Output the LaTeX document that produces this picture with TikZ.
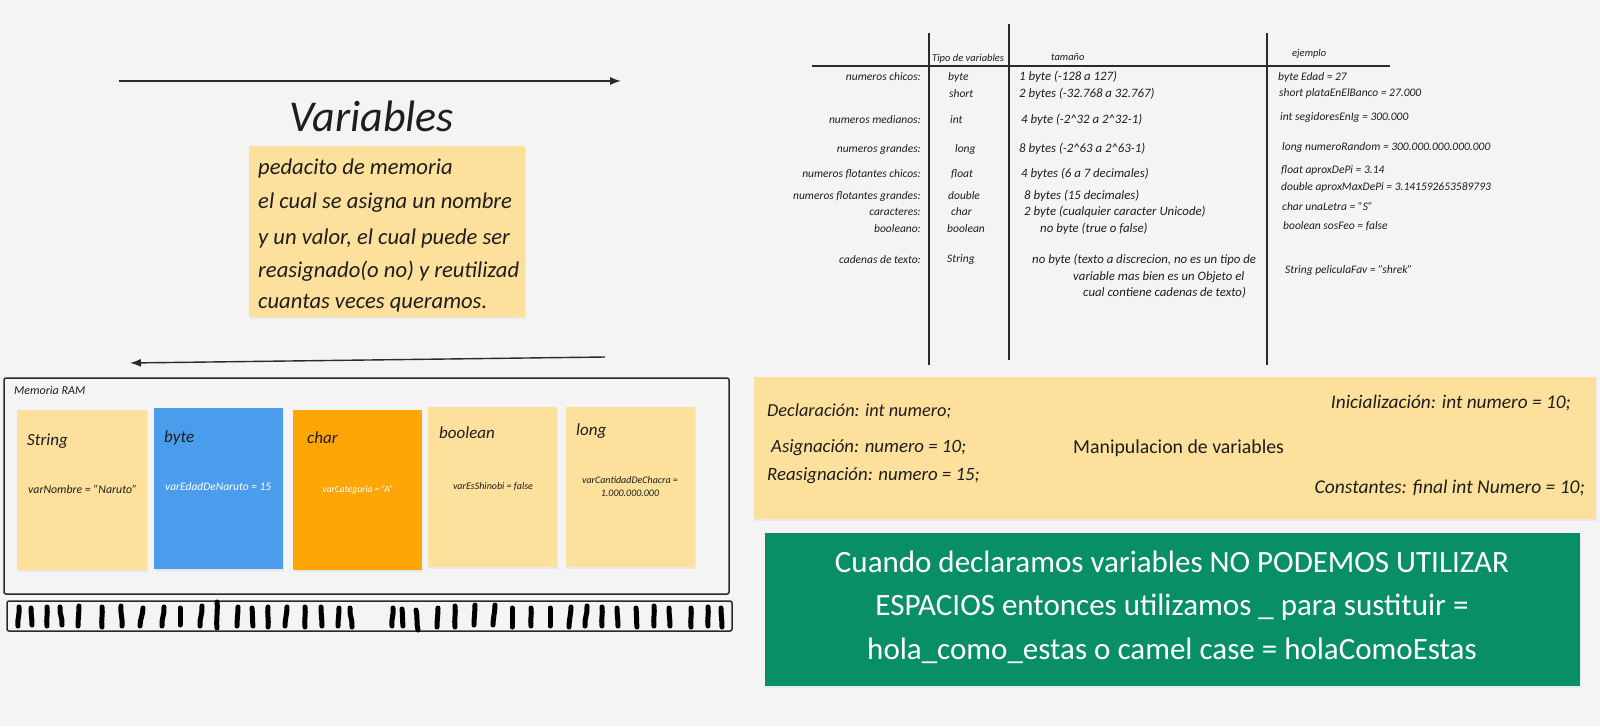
\documentclass[tikz,border=0pt]{standalone}
\usepackage{fontspec}
\setmainfont{Carlito}
\usetikzlibrary{arrows.meta,shadows}
\definecolor{bg}{HTML}{F4F4F4}
\definecolor{ink}{HTML}{1E1E1E}
\definecolor{sticky}{HTML}{FCE09B}
\definecolor{skyblue}{HTML}{4A9DEC}
\definecolor{amber}{HTML}{FFA607}
\definecolor{teal}{HTML}{088F65}
\definecolor{rulec}{HTML}{2A2A2A}
\begin{document}
\begin{tikzpicture}[x=1pt,y=-1pt,
  txt/.style={inner sep=0pt,text=ink},
  handtxt/.style={txt,font=\fontsize{#1}{#1}\selectfont\itshape},
  uptxt/.style={txt,font=\fontsize{#1}{#1}\selectfont},
  card/.style={anchor=north west,inner sep=0pt,draw=none,drop shadow={shadow xshift=1pt,shadow yshift=-2pt,opacity=0.10}},
  conn/.style={draw=rulec,line width=1.4pt,-{Latex[length=11pt,width=8pt]}},
  tline/.style={draw=rulec,line width=1.8pt},
  inkstroke/.style={draw=black,line width=5pt,line cap=round},
  tbl/.style={handtxt=11.5},
  tblw/.style={handtxt=12.8},
]
\fill[bg] (0,0) rectangle (1600,726);
\useasboundingbox (0,0) rectangle (1600,726);

% ---------- title and arrows ----------
\coordinate (a1s) at (119,81);
\coordinate (a1e) at (621,81);
\draw[conn] (a1s) -- (a1e);
\node[handtxt=44] (title) at (372,116) {Variables};

\node[card,fill=sticky,minimum width=276pt,minimum height=171pt] (def) at (249,146) {};
\node[handtxt=22.6,anchor=west] (d1) at (258,168) {pedacito de memoria};
\node[handtxt=22.6,anchor=west] (d2) at (258,203) {el cual se asigna un nombre};
\node[handtxt=22.6,anchor=west] (d3) at (258,238) {y un valor, el cual puede ser};
\node[handtxt=22.6,anchor=west] (d4) at (258,271) {reasignado(o no) y reutilizad};
\node[handtxt=22.6,anchor=west] (d5) at (258,303) {cuantas veces queramos.};

\coordinate (a2s) at (605,357);
\coordinate (a2e) at (130,363);
\draw[conn] (a2s) -- (a2e);

% ---------- memory ----------
\draw[draw=rulec,line width=1.5pt,rounded corners=2pt] (4,378) rectangle (729,594);
\node[handtxt=12,anchor=west] (ram) at (14,390) {Memoria RAM};

\node[card,fill=sticky,minimum width=130pt,minimum height=160pt] (cString) at (17,410) {};
\node[card,fill=skyblue,minimum width=129pt,minimum height=161pt] (cByte) at (154,408) {};
\node[card,fill=amber,minimum width=129pt,minimum height=160pt] (cChar) at (293,410) {};
\node[card,fill=sticky,minimum width=129pt,minimum height=160pt] (cBool) at (428,407) {};
\node[card,fill=sticky,minimum width=129pt,minimum height=160pt] (cLong) at (566,407) {};

\node[handtxt=17,anchor=west] (tString) at (27,441) {String};
\node[handtxt=17,anchor=west] (tByte) at (164,438) {byte};
\node[handtxt=17,anchor=west] (tChar) at (307,438) {char};
\node[handtxt=17,anchor=west] (tBool) at (439,433) {boolean};
\node[handtxt=17,anchor=west] (tLong) at (576,431) {long};

\node[handtxt=11.8,anchor=west] (vString) at (28,489) {varNombre = "Naruto"};
\node[handtxt=11.5,anchor=west,text=white] (vByte) at (165,487) {varEdadDeNaruto = 15};
\node[handtxt=9.5,anchor=center,text=white] (vChar) at (358,490) {varCategoria = "A"};
\node[handtxt=10,anchor=center] (vBool) at (493,487) {varEsShinobi = false};
\node[handtxt=10,anchor=center,align=center] (vLong) at (630,487) {varCantidadDeChacra =\\[3pt]1.000.000.000};

% ---------- memory strip ----------
\draw[draw=rulec,line width=1.5pt,rounded corners=2pt] (7,601) rectangle (732,631);
\foreach \x/\d/\b/\t/\u in {
 18/1/1/607/626, 32/-1/0/608/625, 47/0/1/607/626, 62/-2/-1/607/625, 78/1/0/606/626,
 102/0/1/607/627, 122/-1/-1/606/626, 140/3/0/608/626, 162/2/1/607/626, 180/0/0/608/625,
 200/2/1/606/626, 217/0/1/602/628, 237/1/0/607/626, 253/-1/1/608/626, 268/0/-1/607/627,
 285/2/0/607/626, 305/0/1/607/627, 322/-1/0/607/626, 338/1/0/608/626, 352/-2/-1/608/627,
 392/1/1/608/626, 403/-1/1/609/626, 418/-2/2/610/630, 437/1/0/608/627, 455/0/1/606/627,
 474/1/0/605/625, 493/2/0/605/625, 512/0/0/608/627, 531/0/1/608/626, 550/0/0/608/626,
 569/2/0/607/627, 585/2/1/606/626, 602/0/1/607/626, 618/-1/0/608/626, 637/-1/1/608/627,
 654/0/1/606/626, 670/-1/0/608/626, 691/0/1/608/627, 708/0/1/607/626, 722/-1/0/608/627}
 {\draw[inkstroke] (\x+\d,\t) .. controls (\x+\b+\d,\t+7) and (\x-\b,\u-7) .. (\x,\u);}

% ---------- table ----------
\coordinate (h1) at (812,66);
\coordinate (h2) at (1390,66);
\draw[tline] (h1) -- (h2);
\coordinate (v1t) at (929,33);  \coordinate (v1b) at (929,365);
\coordinate (v2t) at (1009,24); \coordinate (v2b) at (1009,360);
\coordinate (v3t) at (1267,33); \coordinate (v3b) at (1267,365);
\draw[tline] (v1t) -- (v1b);
\draw[tline] (v2t) -- (v2b);
\draw[tline] (v3t) -- (v3b);

\node[handtxt=10.5,anchor=west] (hTipo) at (932,59) {Tipo de variables};
\node[handtxt=10.5,anchor=west] (hTam) at (1051,57) {tamaño};
\node[handtxt=10.5,anchor=west] (hEj) at (1292,54) {ejemplo};

\node[tbl,anchor=east] (l1) at (921,77) {numeros chicos:};
\node[tbl,anchor=east] (l3) at (921,120) {numeros medianos:};
\node[tbl,anchor=east] (l4) at (921,149) {numeros grandes:};
\node[tbl,anchor=east] (l5) at (921,174) {numeros flotantes chicos:};
\node[tbl,anchor=east] (l6) at (921,196) {numeros flotantes grandes:};
\node[tbl,anchor=east] (l7) at (921,212) {caracteres:};
\node[tbl,anchor=east] (l8) at (921,229) {booleano:};
\node[tbl,anchor=east] (l9) at (921,260) {cadenas de texto:};

\node[tbl,anchor=west] (t1) at (948,77) {byte};
\node[tbl,anchor=west] (t2) at (949,94) {short};
\node[tbl,anchor=west] (t3) at (950,120) {int};
\node[tbl,anchor=west] (t4) at (955,149) {long};
\node[tbl,anchor=west] (t5) at (951,174) {float};
\node[tbl,anchor=west] (t6) at (948,196) {double};
\node[tbl,anchor=west] (t7) at (951,212) {char};
\node[tbl,anchor=west] (t8) at (947,229) {boolean};
\node[tbl,anchor=west] (t9) at (947,260) {String};

\node[tblw,anchor=west] (s1) at (1019,77) {1 byte (-128 a 127)};
\node[tblw,anchor=west] (s2) at (1019,94) {2 bytes (-32.768 a 32.767)};
\node[tblw,anchor=west] (s3) at (1021,120) {4 byte (-2\^{}32 a 2\^{}32-1)};
\node[tblw,anchor=west] (s4) at (1019,149) {8 bytes (-2\^{}63 a 2\^{}63-1)};
\node[tblw,anchor=west] (s5) at (1021,174) {4 bytes (6 a 7 decimales)};
\node[tblw,anchor=west] (s6) at (1024,196) {8 bytes (15 decimales)};
\node[tblw,anchor=west] (s7) at (1024,212) {2 byte (cualquier caracter Unicode)};
\node[tblw,anchor=west] (s8) at (1040,229) {no byte (true o false)};
\node[tblw,anchor=west] (s9a) at (1032,260) {no byte (texto a discrecion, no es un tipo de};
\node[tblw,anchor=west] (s9b) at (1073,277) {variable mas bien es un Objeto el};
\node[tblw,anchor=west] (s9c) at (1083,293) {cual contiene cadenas de texto)};

\node[tbl,anchor=west] (e1) at (1278,77) {byte Edad = 27};
\node[tbl,anchor=west] (e2) at (1279,93) {short plataEnElBanco = 27.000};
\node[tbl,anchor=west] (e3) at (1280,117) {int segidoresEnIg = 300.000};
\node[tbl,anchor=west] (e4) at (1282,147) {long numeroRandom = 300.000.000.000.000};
\node[tbl,anchor=west] (e5) at (1281,170) {float aproxDePi = 3.14};
\node[tbl,anchor=west] (e6) at (1281,187) {double aproxMaxDePi = 3.141592653589793};
\node[tbl,anchor=west] (e7) at (1282,207) {char unaLetra = "S"};
\node[tbl,anchor=west] (e8) at (1283,226) {boolean sosFeo = false};
\node[tbl,anchor=west] (e9) at (1285,270) {String peliculaFav = "shrek"};

% ---------- manipulation box ----------
\node[card,fill=sticky,minimum width=842pt,minimum height=142pt] (manip) at (754,377) {};
\node[handtxt=18.3,anchor=west] (m1) at (767,411) {Declaración: int numero;};
\node[handtxt=19.3,anchor=east] (m2) at (1571,403) {Inicialización: int numero = 10;};
\node[handtxt=18.8,anchor=west] (m3) at (771,448) {Asignación: numero = 10;};
\node[uptxt=19.8,anchor=west] (m4) at (1073,448) {Manipulacion de variables};
\node[handtxt=18.8,anchor=west] (m5) at (767,476) {Reasignación: numero = 15;};
\node[handtxt=19.5,anchor=east] (m6) at (1585,488) {Constantes: final int Numero = 10;};

% ---------- green note ----------
\node[card,fill=teal,minimum width=815pt,minimum height=153pt] (green) at (765,533) {};
\node[uptxt=31,text=white] (g1) at (1172,562) {Cuando declaramos variables NO PODEMOS UTILIZAR};
\node[uptxt=31,text=white] (g2) at (1172,607) {ESPACIOS entonces utilizamos \_ para sustituir =};
\node[uptxt=31,text=white] (g3) at (1172,651) {hola\_como\_estas o camel case = holaComoEstas};
\end{tikzpicture}
\end{document}
